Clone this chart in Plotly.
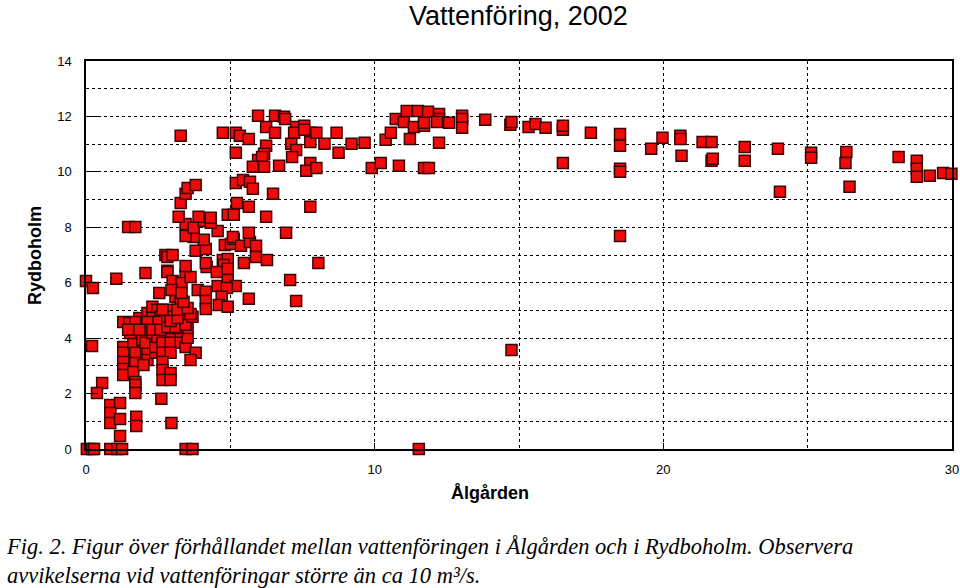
import plotly.graph_objects as go

# Vattenföring (m3/s), daily pairs
algarden = [
    0.03, 0.21, 0.28, 0.84, 1.08, 1.25, 3.45, 3.69, 11.53,
    0.56, 0.38, 0.21, 0.84, 1.18, 0.84, 0.84, 1.18, 1.18, 1.74, 1.74, 2.61, 2.96,
    0.0, 0.24, 1.05,
    1.29, 1.29, 1.29, 1.29, 1.29, 1.64, 1.71, 1.71, 1.64, 1.71, 1.71, 1.71, 1.53, 1.95,
    2.13, 2.13, 2.06, 2.4, 2.4, 1.99, 2.3, 2.47, 2.93, 3.28, 2.65, 2.93, 3.28, 2.65,
    2.93, 2.65, 2.65, 2.65, 2.93, 2.93, 3.45, 3.8, 3.62, 3.52, 3.52, 2.86, 3.17,
    1.29, 1.5, 1.85, 2.13, 2.3, 2.47, 2.3, 2.58, 2.86, 3.17, 3.38, 2.13, 2.47, 2.86,
    3.17, 3.52, 1.71, 2.13, 1.46, 1.85, 2.3, 2.58, 2.82, 3.1, 3.45, 3.69, 2.82, 2.65,
    2.93, 3.17, 3.62, 3.17, 3.52, 3.1, 3.28, 3.38,
    2.54, 2.82, 2.06, 2.75, 2.82, 3.0, 2.82, 3.45, 3.0, 3.31, 3.62, 2.96, 3.31, 3.87,
    4.15, 4.56, 4.91, 5.19, 4.88, 4.7, 4.15, 4.15, 4.6, 4.91, 5.64, 3.45, 4.18, 4.15,
    4.74, 4.91, 4.77, 4.91, 4.53, 5.47, 5.89, 6.27, 3.8, 4.15, 4.08, 3.73, 3.45, 4.81,
    5.02, 5.12, 5.09, 5.37, 5.68, 5.64, 5.89, 4.56,
    1.46, 1.71, 3.45, 3.73, 4.08, 4.32, 3.21, 3.9, 4.32, 4.91, 5.12, 6.24, 3.28, 5.23,
    5.64, 3.45, 3.52, 3.8, 5.19, 5.44, 5.68, 5.78, 6.48,
    6.93, 7.07, 7.28, 7.77, 8.05,
    3.28, 4.74, 5.19, 5.33, 5.64, 5.96, 6.24, 6.55, 6.86, 6.9, 6.55, 6.24, 5.19, 6.17,
    5.96, 6.1, 5.78, 6.17, 6.69, 7.28, 7.56, 7.21, 7.77, 7.77, 7.11, 7.28, 7.14, 7.77,
    7.63, 7.98, 7.98, 7.56, 8.26, 8.75, 8.68, 9.2, 9.65, 9.9, 10.21, 10.84, 11.71,
    11.88, 10.38, 10.56, 11.22, 12.23, 10.73, 11.01, 11.36, 11.71, 11.71, 11.11, 11.5,
    11.85, 12.23, 12.23, 12.16, 12.58, 13.03, 13.03, 13.03, 13.83, 14.7, 14.74, 15.33,
    15.57, 15.92, 16.52, 16.52, 17.49, 16.52, 14.74,
    18.5, 18.5, 18.5, 18.5, 18.5, 19.58, 19.97, 20.59, 20.59, 20.63, 21.36, 21.67,
    21.67, 21.71, 22.82, 22.82, 23.97, 24.04, 25.12, 25.12, 26.34, 26.31, 26.45,
    28.15, 28.78, 28.78, 28.78, 29.23, 29.69, 29.98,
]
rydboholm = [
    0, 0, 0, 0, 0, 0, 0, 0, 0,
    2.38, 2.02, 3.72, 1.59, 1.66, 1.3, 0.94, 1.08, 0.47, 1.16, 0.83, 1.81, 0.94,
    6.06, 5.81, 6.14,
    3.68, 3.47, 3.14, 2.89, 2.67, 3.83, 3.47, 3.1, 2.78, 2.42, 2.31, 2.02, 4.19, 3.94,
    3.57, 3.21, 3.83, 3.47, 3.68, 3.03, 4.19, 4.04, 4.04, 4.12, 3.83, 3.83, 3.83, 3.47,
    3.47, 3.14, 2.85, 2.49, 2.74, 2.49, 3.68, 3.47, 3.21, 4.01, 4.37, 4.37, 4.37,
    4.58, 4.55, 4.73, 4.91, 5.13, 5.02, 4.73, 4.77, 5.02, 4.91, 5.09, 4.4, 4.58, 4.55,
    4.58, 4.77, 4.58, 4.58, 4.3, 4.3, 4.3, 4.3, 4.4, 4.4, 4.48, 4.77, 4.77, 5.02,
    4.62, 4.73, 4.87, 5.02, 5.09, 5.49, 5.42, 5.31,
    5.63, 6.43, 6.35, 7.0, 6.93, 7.0, 6.39, 6.28, 6.06, 5.99, 6.21, 5.74, 5.63, 5.74,
    5.67, 5.88, 6.1, 5.88, 5.81, 5.49, 5.34, 5.05, 5.2, 5.13, 5.42, 6.6, 6.57, 6.71,
    6.82, 6.86, 6.64, 6.5, 6.39, 6.71, 6.93, 6.82, 7.15, 7.22, 7.55, 7.65, 7.69, 7.36,
    7.4, 7.58, 7.65, 7.33, 7.47, 7.8, 7.33, 7.87,
    8.01, 8.01, 8.12, 7.98, 8.23, 8.16, 8.38, 8.38, 8.34, 8.45, 8.45, 8.38, 8.88, 8.88,
    8.74, 9.21, 9.42, 9.53, 9.6, 9.71, 9.64, 9.39, 9.21,
    7.8, 6.1, 5.34, 8.74, 6.71,
    11.3, 11.41, 11.41, 11.3, 11.19, 12.02, 11.62, 12.02, 11.99, 11.91, 11.41, 10.94,
    10.69, 10.65, 10.43, 10.54, 10.18, 10.18, 10.22, 11.62, 11.66, 11.41, 11.41, 11.08,
    11.01, 10.79, 10.54, 10.32, 10.04, 10.14, 11.41, 11.52, 11.01, 10.69, 11.41, 11.01,
    11.05, 10.14, 10.32, 10.22, 10.14, 10.14, 11.16, 11.41, 11.19, 11.05, 11.91, 11.8,
    11.62, 11.66, 11.77, 12.2, 12.2, 12.17, 12.09, 11.91, 11.8, 11.77, 12.02, 11.91,
    11.59, 11.88, 11.7, 11.8, 11.62, 11.73, 11.59, 11.52, 11.66, 11.41, 10.32, 3.57,
    11.37, 10.94, 10.11, 10.0, 7.69, 10.83, 11.23, 11.3, 11.19, 10.58, 11.08, 11.08,
    10.4, 10.47, 10.9, 10.4, 10.83, 9.28, 10.69, 10.51, 10.72, 10.32, 9.46,
    10.54, 10.4, 10.11, 9.82, 9.86, 9.96, 9.93,
]

caption = ("<i>Fig. 2. Figur över förhållandet mellan vattenföringen i Ålgården och i Rydboholm. Observera</i><br>"
           "<i>avvikelserna vid vattenföringar större än ca 10 m³/s.</i>")

SANS = 'Liberation Sans, Arial'

fig = go.Figure()
fig.add_trace(go.Scatter(
    x=algarden, y=rydboholm,
    mode='markers',
    marker=dict(symbol='square', size=11, color='#f00a0a',
                line=dict(color='#3a0505', width=1.5)),
    cliponaxis=False,
    showlegend=False,
))

axis_common = dict(
    showline=True, linecolor='black', linewidth=1.5, mirror=True,
    showgrid=True, gridcolor='black', gridwidth=1, griddash='dot',
    zeroline=False, ticks='inside', tickcolor='black', automargin=False,
    tickfont=dict(family=SANS, size=13, color='black'),
)

fig.update_xaxes(
    range=[0, 30], dtick=10, tick0=0, ticklen=6,
    minor=dict(dtick=5, showgrid=True, gridcolor='black', griddash='dot', ticks=''),
    ticklabelstandoff=8,
    **axis_common,
)
fig.update_yaxes(
    range=[0, 14], dtick=2, tick0=0, ticklen=12,
    minor=dict(dtick=1, showgrid=True, gridcolor='black', griddash='dot', ticks=''),
    ticklabelstandoff=10,
    **axis_common,
)

fig.update_layout(
    width=960, height=588,
    margin=dict(l=86, r=8, t=61, b=139),
    plot_bgcolor='white', paper_bgcolor='white',
    title=dict(text='Vattenföring, 2002', x=0.54, xanchor='center', y=0.99, yanchor='top',
               font=dict(family=SANS, size=27, color='black')),
)

# axis titles
fig.add_annotation(text='<b>Ålgården</b>', xref='paper', yref='paper', x=0.4665, y=-0.113,
                   xanchor='center', yanchor='middle', showarrow=False,
                   font=dict(family=SANS, size=18, color='black'))
fig.add_annotation(text='<b>Rydboholm</b>', xref='paper', yref='paper', x=-0.059, y=0.5,
                   xanchor='center', yanchor='middle', textangle=-90, showarrow=False,
                   font=dict(family=SANS, size=18, color='black'))

fig.add_annotation(
    text=caption, xref='paper', yref='paper', x=-0.095, y=-0.215,
    xanchor='left', yanchor='top', align='left', showarrow=False,
    font=dict(family='Liberation Serif, Times New Roman', size=22.5, color='black'),
)

fig.write_html("out.html", config={'displayModeBar': False},
               post_script="document.body.style.margin='0px';")
